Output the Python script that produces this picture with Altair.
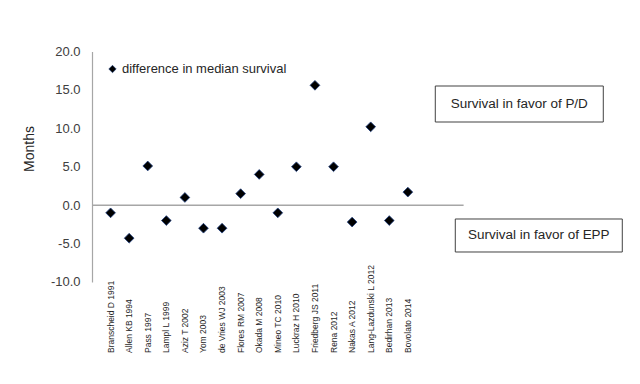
import altair as alt
import pandas as pd

studies = [
    "Branscheid D 1991", "Allen KB 1994", "Pass 1997", "Lampl L 1999",
    "Aziz T 2002", "Yom 2003", "de Vries WJ 2003", "Flores RM 2007",
    "Okada M 2008", "Mineo TC 2010", "Luckraz H 2010", "Friedberg JS 2011",
    "Rena 2012", "Nakas A 2012", "Lang-Lazdunski L 2012", "Bedirhan 2013",
    "Bovolato 2014",
]
diff_months = [-1.0, -4.3, 5.1, -2.0, 1.0, -3.0, -3.0, 1.5, 4.0, -1.0,
               5.0, 15.6, 5.0, -2.2, 10.2, -2.0, 1.7]
series_name = "difference in median survival"
y_ticks = [20, 15, 10, 5, 0, -5, -10]

df = pd.DataFrame({
    "idx": list(range(1, len(studies) + 1)),
    "study": studies,
    "months": diff_months,
    "series": [series_name] * len(studies),
})

FONT = "Liberation Sans"
W, H = 371.6, 230.5

x_scale = alt.Scale(domain=[0, 20], nice=False, zero=False)

base = alt.Chart(df)

points = base.mark_point(
    shape="diamond", filled=True, size=95, opacity=1,
    stroke="#1f3f7f", strokeWidth=0.8,
).encode(
    x=alt.X("idx:Q", scale=x_scale, axis=None),
    y=alt.Y(
        "months:Q",
        scale=alt.Scale(domain=[-10, 20], nice=False),
        axis=alt.Axis(
            values=y_ticks, tickCount=len(y_ticks), labelOverlap=False,
            labelExpr="replace(format(datum.value, '.1f'), '\u2212', '-')",
            ticks=False, grid=False, domainColor="#a6a6a6", domainWidth=1.2,
            labelFont=FONT, labelFontSize=13, labelColor="#404040", labelPadding=12,
            title="Months", titleFont=FONT, titleFontSize=14, titleFontWeight="normal",
            titleColor="#262626", titleX=-62, titleY=97, titleBaseline="middle",
        ),
    ),
    color=alt.Color(
        "series:N",
        scale=alt.Scale(range=["#000000"]),
        legend=alt.Legend(
            title=None, orient="none", legendX=14, legendY=11,
            symbolType="diamond", symbolSize=55, symbolStrokeColor="#1f3f7f",
            symbolStrokeWidth=0.6, labelFont=FONT, labelFontSize=13,
            labelColor="#262626", labelOffset=3, padding=0, labelLimit=0,
        ),
    ),
)

x_labels = base.mark_text(
    angle=270, align="left", baseline="middle", font=FONT, fontSize=8.5,
    color="#262626",
).encode(
    x=alt.X("idx:Q", scale=x_scale, axis=None),
    y=alt.value(H + 71),
    text="study:N",
)

zero_df = pd.DataFrame({"x0": [0], "x1": [20], "y": [0]})
zero_line = alt.Chart(zero_df).mark_rule(color="#a6a6a6", strokeWidth=1.5).encode(
    x=alt.X("x0:Q", scale=x_scale, axis=None), x2="x1:Q", y="y:Q"
)

one = df.head(1)
box_pd = alt.Chart(one).mark_rect(fill="white", stroke="#404040", strokeWidth=1).encode(
    x=alt.value(343.3), x2=alt.value(511.3), y=alt.value(34.5), y2=alt.value(70.5)
)
text_pd = alt.Chart(one).mark_text(
    text="Survival in favor of P/D", font=FONT, fontSize=13.5, color="#262626",
    align="center", baseline="middle",
).encode(x=alt.value(427.3), y=alt.value(52.5))

box_epp = alt.Chart(one).mark_rect(fill="white", stroke="#404040", strokeWidth=1).encode(
    x=alt.value(363.3), x2=alt.value(530.3), y=alt.value(167.5), y2=alt.value(200.5)
)
text_epp = alt.Chart(one).mark_text(
    text="Survival in favor of EPP", font=FONT, fontSize=13.5, color="#262626",
    align="center", baseline="middle",
).encode(x=alt.value(446.8), y=alt.value(184))

chart = alt.layer(zero_line, points, x_labels, box_pd, text_pd, box_epp, text_epp).properties(
    width=W, height=H,
    autosize=alt.AutoSizeParams(type="none"),
    padding={"left": 84, "top": 43.5, "right": 168, "bottom": 88},
    background="white",
).configure_view(strokeWidth=0)

chart.save("out.html", embed_options={"renderer": "svg", "actions": False})
